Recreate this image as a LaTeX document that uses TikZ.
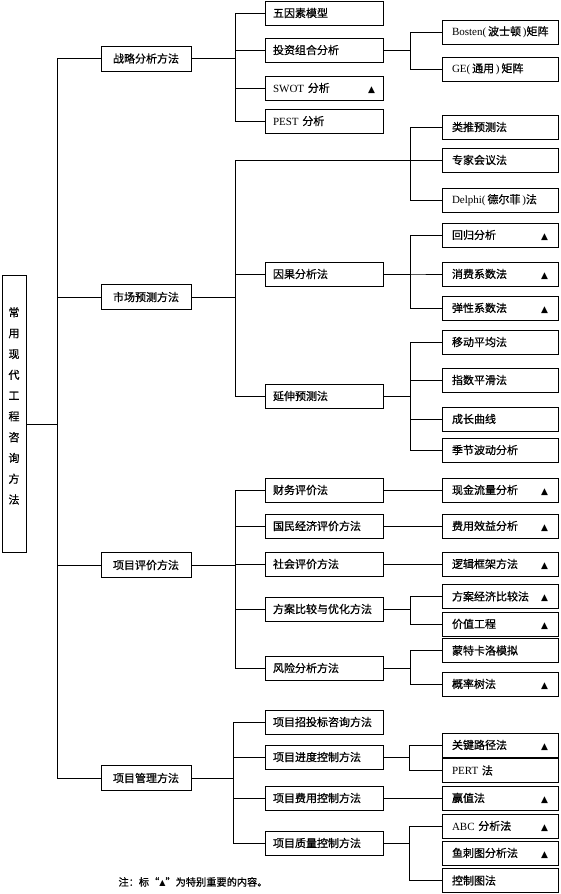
\documentclass[tikz,border=0pt]{standalone}
\usepackage{fontspec}
\setmainfont{Liberation Serif}
\newfontfamily\cjk[FakeBold=0.8]{Noto Sans CJK SC}
\newfontfamily\dv{DejaVu Sans}
\newcommand\tri{{\dv\fontsize{9}{10}\selectfont ▲}}
\newcommand\lat[1]{{\rmfamily #1}}
\newcommand\fillr{\hskip 0pt plus 1filll}
\tikzset{
  base/.style={draw, line width=1pt, inner sep=0pt, font=\cjk\fontsize{11}{12}\selectfont},
  l1/.style={base, minimum width=90pt, minimum height=25pt, align=center},
  l2/.style={base, minimum width=118pt, minimum height=24pt, text width=102pt, align=left},
  l3/.style={base, minimum width=116pt, minimum height=24pt, text width=96pt, align=left},
  rootbox/.style={base, minimum width=24pt, minimum height=277pt, align=center, font=\cjk\fontsize{11}{20.8}\selectfont},
  ln/.style={line width=1pt},
  note/.style={font=\cjk\fontsize{10.2}{11}\selectfont, inner sep=0pt}
}
\begin{document}
\begin{tikzpicture}[x=1pt,y=-1pt]
\useasboundingbox (0,0) rectangle (560,894);
% root
\node[rootbox] (root) at (14,413.5) {常\\用\\现\\代\\工\\程\\咨\\询\\方\\法\\[-4.8pt]\mbox{}};
% level 1
\node[l1] (s) at (146,58.5) {战略分析方法};
\node[l1] (m) at (146,297) {市场预测方法};
\node[l1] (p) at (146,565) {项目评价方法};
\node[l1] (g) at (146,778) {项目管理方法};
% level 2
\node[l2] (a1) at (324,13) {五因素模型};
\node[l2] (a2) at (324,50) {投资组合分析};
\node[l2] (a3) at (324,88) {\lat{SWOT} 分析\fillr\tri};
\node[l2] (a4) at (324,121) {\lat{PEST} 分析};
\node[l2] (b2) at (324,274) {因果分析法};
\node[l2] (b3) at (324,396) {延伸预测法};
\node[l2] (c1) at (324,490) {财务评价法};
\node[l2] (c2) at (324,526) {国民经济评价方法};
\node[l2] (c3) at (324,564) {社会评价方法};
\node[l2] (c4) at (324,609) {方案比较与优化方法};
\node[l2] (c5) at (324,668) {风险分析方法};
\node[l2] (d1) at (324,722) {项目招投标咨询方法};
\node[l2] (d2) at (324,757) {项目进度控制方法};
\node[l2] (d3) at (324,798) {项目费用控制方法};
\node[l2] (d4) at (324,843) {项目质量控制方法};
% level 3
\node[l3] (bo) at (500,32) {\lat{Bosten(\,}波士顿\lat{\,)}矩阵};
\node[l3] (ge) at (500,69) {\lat{GE(\,}通用\lat{\,)\,}矩阵};
\node[l3] (lt) at (500,127) {类推预测法};
\node[l3] (zj) at (500,160) {专家会议法};
\node[l3] (de) at (500,200) {\lat{Delphi(\,}德尔菲\lat{\,)}法};
\node[l3] (hg) at (500,235) {回归分析\fillr\tri};
\node[l3] (xf) at (500,274) {消费系数法\fillr\tri};
\node[l3] (tx) at (500,308) {弹性系数法\fillr\tri};
\node[l3] (yd) at (500,342) {移动平均法};
\node[l3] (zs) at (500,380) {指数平滑法};
\node[l3] (cz) at (500,419) {成长曲线};
\node[l3] (jj) at (500,450) {季节波动分析};
\node[l3] (xj) at (500,490) {现金流量分析\fillr\tri};
\node[l3] (fy) at (500,526) {费用效益分析\fillr\tri};
\node[l3] (lj) at (500,564) {逻辑框架方法\fillr\tri};
\node[l3] (fa) at (500,596.5) {方案经济比较法\fillr\tri};
\node[l3] (jz) at (500,624) {价值工程\fillr\tri};
\node[l3] (mt) at (500,650.5) {蒙特卡洛模拟};
\node[l3] (gl) at (500,684) {概率树法\fillr\tri};
\node[l3] (gj) at (500,745) {关键路径法\fillr\tri};
\node[l3] (pe) at (500,770.5) {\lat{PERT} 法};
\node[l3] (yz) at (500,798) {赢值法\fillr\tri};
\node[l3] (abc) at (500,826) {\lat{ABC} 分析法\fillr\tri};
\node[l3] (yc) at (500,853) {鱼刺图分析法\fillr\tri};
\node[l3] (kz) at (500,880.5) {控制图法};
% note
\node[note] (nt) at (193,882) {注：标“{\dv\fontsize{8}{10}\selectfont ▲}”为特别重要的内容。};
% junction columns
\coordinate (t) at (57,0);
\coordinate (j) at (235,0);
\coordinate (jg) at (233,0);
\coordinate (k) at (410,0);
\coordinate (kg) at (409,0);
\coordinate (rc) at ([yshift=-10.5pt]root.east);
\coordinate (mj) at (k |- zj.west);
% connectors
\foreach \c in {s,m,p,g} \draw[ln] (rc) -- (rc -| t) |- (\c.west);
\foreach \c in {a1,a2,a3,a4} \draw[ln] (s.east) -- (s.east -| j) |- (\c.west);
\foreach \c in {bo,ge} \draw[ln] (a2.east) -- (a2.east -| k) |- (\c.west);
\foreach \c in {zj,b2,b3} \draw[ln] (m.east) -- (m.east -| j) |- (\c.west);
\foreach \c in {lt,de} \draw[ln] (mj) |- (\c.west);
\foreach \c in {hg,xf,tx} \draw[ln] (b2.east) -- (b2.east -| k) |- (\c.west);
\foreach \c in {yd,zs,cz,jj} \draw[ln] (b3.east) -- (b3.east -| k) |- (\c.west);
\foreach \c in {c1,c2,c3,c4,c5} \draw[ln] (p.east) -- (p.east -| j) |- (\c.west);
\draw[ln] (c1.east) -- (xj.west);
\draw[ln] (c2.east) -- (fy.west);
\draw[ln] (c3.east) -- (lj.west);
\foreach \c in {fa,jz} \draw[ln] (c4.east) -- (c4.east -| k) |- (\c.west);
\foreach \c in {mt,gl} \draw[ln] (c5.east) -- (c5.east -| k) |- (\c.west);
\foreach \c in {d1,d2,d3,d4} \draw[ln] (g.east) -- (g.east -| jg) |- (\c.west);
\foreach \c in {gj,pe} \draw[ln] (d2.east) -- (d2.east -| kg) |- (\c.west);
\draw[ln] (d3.east) -- (yz.west);
\foreach \c in {abc,kz} \draw[ln] (d4.east) -- (d4.east -| kg) |- (\c.west);
\end{tikzpicture}
\end{document}
